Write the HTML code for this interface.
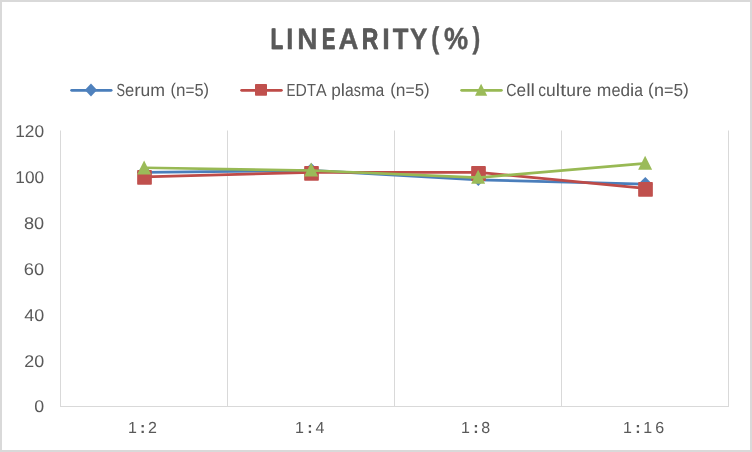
<!DOCTYPE html>
<html lang="en">
<head>
<meta charset="utf-8">
<title>Linearity(%)</title>
<style>
html,body{margin:0;padding:0;background:#ffffff;}
body{width:752px;height:452px;overflow:hidden;font-family:"Liberation Sans",sans-serif;}
svg{will-change:transform;}
svg text{font-family:"Liberation Sans",sans-serif;}
</style>
</head>
<body>
<svg width="752" height="452" viewBox="0 0 752 452" font-family="'Liberation Sans', sans-serif" style="display:block;font-kerning:none" text-rendering="geometricPrecision">
<rect x="0" y="0" width="752" height="452" fill="#d9d9d9"/>
<rect x="2" y="2" width="748" height="448" fill="#ffffff"/>
<g>
<text transform="translate(270.62 48.55) scale(0.9938 1.4680)" font-size="20" font-weight="bold" fill="#595959" stroke="#595959" stroke-width="0.30" vector-effect="non-scaling-stroke">L</text><text transform="translate(271.32 48.55) scale(0.9938 1.4680)" font-size="20" font-weight="bold" fill="#595959" stroke="#595959" stroke-width="0.30" vector-effect="non-scaling-stroke">L</text>
<text transform="translate(286.33 48.55) scale(1.2843 1.4680)" font-size="20" font-weight="bold" fill="#595959" stroke="#595959" stroke-width="0.30" vector-effect="non-scaling-stroke">I</text>
<text transform="translate(297.37 48.55) scale(1.4033 1.4680)" font-size="20" font-weight="bold" fill="#595959" stroke="#595959" stroke-width="0.30" vector-effect="non-scaling-stroke">N</text>
<text transform="translate(321.84 48.55) scale(0.9803 1.4680)" font-size="20" font-weight="bold" fill="#595959" stroke="#595959" stroke-width="0.30" vector-effect="non-scaling-stroke">E</text><text transform="translate(322.54 48.55) scale(0.9803 1.4680)" font-size="20" font-weight="bold" fill="#595959" stroke="#595959" stroke-width="0.30" vector-effect="non-scaling-stroke">E</text>
<text transform="translate(338.56 48.55) scale(1.3787 1.4680)" font-size="20" font-weight="bold" fill="#595959" stroke="#595959" stroke-width="0.30" vector-effect="non-scaling-stroke">A</text>
<text transform="translate(361.73 48.55) scale(1.1382 1.4680)" font-size="20" font-weight="bold" fill="#595959" stroke="#595959" stroke-width="0.30" vector-effect="non-scaling-stroke">R</text><text transform="translate(362.08 48.55) scale(1.1382 1.4680)" font-size="20" font-weight="bold" fill="#595959" stroke="#595959" stroke-width="0.30" vector-effect="non-scaling-stroke">R</text>
<text transform="translate(382.14 48.55) scale(1.3538 1.4680)" font-size="20" font-weight="bold" fill="#595959" stroke="#595959" stroke-width="0.30" vector-effect="non-scaling-stroke">I</text>
<text transform="translate(392.76 48.55) scale(1.2821 1.4680)" font-size="20" font-weight="bold" fill="#595959" stroke="#595959" stroke-width="0.30" vector-effect="non-scaling-stroke">T</text>
<text transform="translate(410.01 48.55) scale(1.3017 1.4680)" font-size="20" font-weight="bold" fill="#595959" stroke="#595959" stroke-width="0.30" vector-effect="non-scaling-stroke">Y</text>
<text transform="translate(431.17 47.92) scale(1.1870 1.5019)" font-size="20" font-weight="bold" fill="#595959" stroke="#595959" stroke-width="0.30" vector-effect="non-scaling-stroke">(</text>
<text transform="translate(443.98 48.71) scale(1.3546 1.5207)" font-size="20" font-weight="bold" fill="#595959" stroke="#595959" stroke-width="0.30" vector-effect="non-scaling-stroke">%</text>
<text transform="translate(472.43 47.92) scale(1.1516 1.5019)" font-size="20" font-weight="bold" fill="#595959" stroke="#595959" stroke-width="0.30" vector-effect="non-scaling-stroke">)</text>
</g>
<g fill="#d9d9d9">
<rect x="60" y="130.5" width="1" height="276.5"/>
<rect x="227" y="130.5" width="1" height="276.5"/>
<rect x="394" y="130.5" width="1" height="276.5"/>
<rect x="561" y="130.5" width="1" height="276.5"/>
<rect x="728" y="130.5" width="1" height="276.5"/>
<rect x="60" y="406" width="669" height="1"/>
</g>
<text transform="translate(15.18 137.05) scale(1.0188 1)" font-size="17.00" font-weight="normal" fill="#595959">120</text>
<text transform="translate(15.34 182.95) scale(1.0131 1)" font-size="17.00" font-weight="normal" fill="#595959">100</text>
<text transform="translate(23.96 228.85) scale(1.0653 1)" font-size="17.00" font-weight="normal" fill="#595959">80</text>
<text transform="translate(23.77 274.75) scale(1.0758 1)" font-size="17.00" font-weight="normal" fill="#595959">60</text>
<text transform="translate(24.19 320.65) scale(1.0529 1)" font-size="17.00" font-weight="normal" fill="#595959">40</text>
<text transform="translate(24.20 366.55) scale(1.0523 1)" font-size="17.00" font-weight="normal" fill="#595959">20</text>
<text transform="translate(34.21 412.45) scale(1.0460 1)" font-size="17.00" font-weight="normal" fill="#595959">0</text>
<text transform="translate(127.98 433.00) scale(1.0000 1)" font-size="16.00" font-weight="normal" fill="#595959">1</text>
<text transform="translate(140.09 433.00) scale(1.0000 1)" font-size="16.00" font-weight="bold" fill="#595959">:</text>
<text transform="translate(148.10 433.00) scale(1.0000 1)" font-size="16.00" font-weight="normal" fill="#595959">2</text>
<text transform="translate(295.03 433.00) scale(1.0000 1)" font-size="16.00" font-weight="normal" fill="#595959">1</text>
<text transform="translate(307.24 433.00) scale(1.0000 1)" font-size="16.00" font-weight="bold" fill="#595959">:</text>
<text transform="translate(315.40 433.00) scale(1.0000 1)" font-size="16.00" font-weight="normal" fill="#595959">4</text>
<text transform="translate(461.03 433.00) scale(1.0000 1)" font-size="16.00" font-weight="normal" fill="#595959">1</text>
<text transform="translate(473.14 433.00) scale(1.0000 1)" font-size="16.00" font-weight="bold" fill="#595959">:</text>
<text transform="translate(481.20 433.00) scale(1.0000 1)" font-size="16.00" font-weight="normal" fill="#595959">8</text>
<text transform="translate(622.98 433.00) scale(1.0000 1)" font-size="16.00" font-weight="normal" fill="#595959">1</text>
<text transform="translate(635.14 433.00) scale(1.0000 1)" font-size="16.00" font-weight="bold" fill="#595959">:</text>
<text transform="translate(643.23 433.00) scale(1.0000 1)" font-size="16.00" font-weight="normal" fill="#595959">1</text>
<text transform="translate(655.20 433.00) scale(1.0000 1)" font-size="16.00" font-weight="normal" fill="#595959">6</text>
<line x1="71.60" y1="90.35" x2="111.20" y2="90.35" stroke="#4a7ebb" stroke-width="2.70" stroke-linecap="round"/>
<polygon points="91.00,83.55 97.10,90.05 91.00,96.55 84.90,90.05" fill="#4f81bd"/>
<line x1="241.60" y1="90.35" x2="281.40" y2="90.35" stroke="#be4b48" stroke-width="2.70" stroke-linecap="round"/>
<rect x="255.00" y="84.05" width="12.00" height="11.70" rx="0.8" fill="#c0504d"/>
<line x1="461.60" y1="90.35" x2="501.40" y2="90.35" stroke="#98b954" stroke-width="2.70" stroke-linecap="round"/>
<polygon points="481.10,83.85 487.20,95.65 475.00,95.65" fill="#9bbb59"/>
<g font-size="17.60" fill="#595959"><text transform="translate(116.47 95.70) scale(0.7233 1.0000)">S</text><text transform="translate(124.96 95.70) scale(0.9393 1.0000)">e</text><text transform="translate(134.16 95.70) scale(1.0992 1.0000)">r</text><text transform="translate(140.60 95.70) scale(0.9918 1.0000)">u</text><text transform="translate(150.31 95.70) scale(1.0068 1.0000)">m</text></g>
<g font-size="17.60" fill="#595959"><text transform="translate(170.58 95.20) scale(0.9305 0.9570)">(</text><text transform="translate(176.04 95.70) scale(0.9654 1.0000)">n</text><text transform="translate(185.49 95.70) scale(0.8716 1.0000)">=</text><text transform="translate(194.45 95.70) scale(0.9313 1.0000)">5</text><text transform="translate(203.56 95.20) scale(0.9305 0.9570)">)</text></g>
<g font-size="17.60" fill="#595959"><text transform="translate(286.59 95.70) scale(0.7657 1.0000)">E</text><text transform="translate(295.58 95.70) scale(0.8911 1.0000)">D</text><text transform="translate(306.91 95.70) scale(0.8344 1.0000)">T</text><text transform="translate(315.88 95.70) scale(0.9074 1.0000)">A</text></g>
<g font-size="17.60" fill="#595959"><text transform="translate(331.29 95.70) scale(0.9783 1.0000)">p</text><text transform="translate(340.87 95.70) scale(1.0698 1.0000)">l</text><text transform="translate(345.05 95.70) scale(0.8920 1.0000)">a</text><text transform="translate(353.78 95.70) scale(0.8101 1.0000)">s</text><text transform="translate(360.91 95.70) scale(0.9931 1.0000)">m</text><text transform="translate(375.47 95.70) scale(0.8920 1.0000)">a</text></g>
<g font-size="17.60" fill="#595959"><text transform="translate(390.26 95.20) scale(0.9535 0.9570)">(</text><text transform="translate(395.85 95.70) scale(0.9893 1.0000)">n</text><text transform="translate(405.53 95.70) scale(0.8931 1.0000)">=</text><text transform="translate(414.71 95.70) scale(0.9543 1.0000)">5</text><text transform="translate(424.05 95.20) scale(0.9535 0.9570)">)</text></g>
<g font-size="17.60" fill="#595959"><text transform="translate(506.33 95.70) scale(0.8068 1.0000)">C</text><text transform="translate(516.58 95.70) scale(0.9776 1.0000)">e</text><text transform="translate(526.15 95.70) scale(1.1287 1.0000)">l</text><text transform="translate(530.57 95.70) scale(1.1287 1.0000)">l</text></g>
<g font-size="17.60" fill="#595959"><text transform="translate(538.31 95.70) scale(0.8867 1.0000)">c</text><text transform="translate(546.11 95.70) scale(0.9905 1.0000)">u</text><text transform="translate(555.81 95.70) scale(1.0831 1.0000)">l</text><text transform="translate(560.04 95.70) scale(1.2641 1.0000)">t</text><text transform="translate(566.22 95.70) scale(0.9905 1.0000)">u</text><text transform="translate(575.92 95.70) scale(1.0977 1.0000)">r</text><text transform="translate(582.35 95.70) scale(0.9381 1.0000)">e</text></g>
<g font-size="17.60" fill="#595959"><text transform="translate(596.84 95.70) scale(0.9918 1.0000)">m</text><text transform="translate(611.38 95.70) scale(0.9253 1.0000)">e</text><text transform="translate(620.44 95.70) scale(0.9771 1.0000)">d</text><text transform="translate(630.00 95.70) scale(1.0684 1.0000)">i</text><text transform="translate(634.18 95.70) scale(0.8908 1.0000)">a</text></g>
<g font-size="17.60" fill="#595959"><text transform="translate(648.12 95.20) scale(0.9855 0.9570)">(</text><text transform="translate(653.90 95.70) scale(1.0224 1.0000)">n</text><text transform="translate(663.91 95.70) scale(0.9230 1.0000)">=</text><text transform="translate(673.40 95.70) scale(0.9863 1.0000)">5</text><text transform="translate(683.05 95.20) scale(0.9855 0.9570)">)</text></g>
<polyline points="144.40,172.30 311.40,170.40 478.40,179.80 645.40,184.20" fill="none" stroke="#4a7ebb" stroke-width="2.70" stroke-linecap="round" stroke-linejoin="round"/>
<polygon points="144.30,165.00 151.60,172.30 144.30,179.60 137.00,172.30" fill="#4f81bd"/>
<polygon points="311.30,162.90 318.60,170.20 311.30,177.50 304.00,170.20" fill="#4f81bd"/>
<polygon points="478.30,171.30 485.60,178.60 478.30,185.90 471.00,178.60" fill="#4f81bd"/>
<polygon points="645.30,177.00 652.60,184.30 645.30,191.60 638.00,184.30" fill="#4f81bd"/>
<polyline points="144.40,176.90 311.40,172.30 478.40,172.30 645.40,188.40" fill="none" stroke="#be4b48" stroke-width="2.70" stroke-linecap="round" stroke-linejoin="round"/>
<rect x="137.15" y="169.90" width="14.70" height="14.80" rx="0.8" fill="#c0504d"/>
<rect x="304.15" y="166.00" width="14.70" height="14.80" rx="0.8" fill="#c0504d"/>
<rect x="471.15" y="166.10" width="14.70" height="14.80" rx="0.8" fill="#c0504d"/>
<rect x="638.15" y="181.90" width="14.70" height="14.80" rx="0.8" fill="#c0504d"/>
<polyline points="144.40,167.75 311.40,170.50 478.40,177.60 645.40,163.30" fill="none" stroke="#98b954" stroke-width="2.70" stroke-linecap="round" stroke-linejoin="round"/>
<polygon points="144.10,160.40 151.10,174.40 137.10,174.40" fill="#9bbb59"/>
<polygon points="311.10,162.60 318.10,176.60 304.10,176.60" fill="#9bbb59"/>
<polygon points="478.10,169.70 485.10,183.70 471.10,183.70" fill="#9bbb59"/>
<polygon points="645.10,155.65 652.10,169.65 638.10,169.65" fill="#9bbb59"/>
</svg>
</body>
</html>
